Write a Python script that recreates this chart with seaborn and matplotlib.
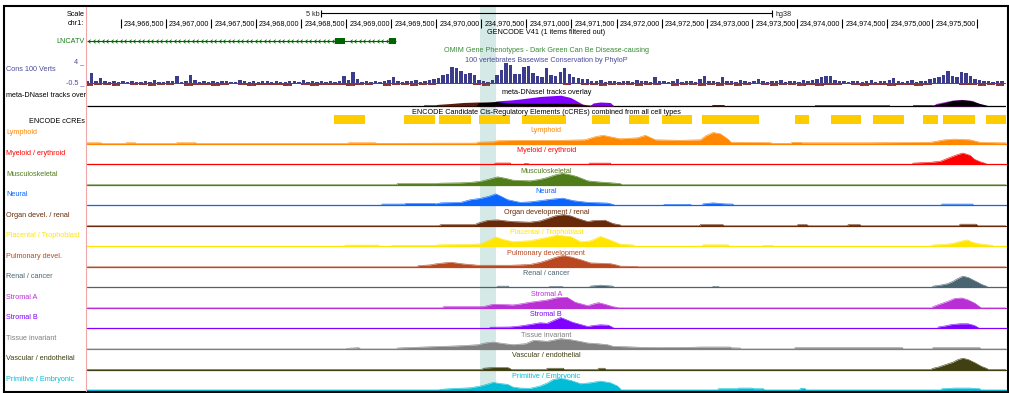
import matplotlib
matplotlib.use("Agg")
import matplotlib.pyplot as plt
from matplotlib.patches import Rectangle
from matplotlib.lines import Line2D
from matplotlib.path import Path
import numpy as np
import pandas as pd
import seaborn as sns

# ------------------------------------------------------------------ data
ORIGIN_BP = 234_960_000            # all *_KB positions are kb past this chr1 coordinate
CHROM = "chr1:"
VIEW_KB = (5.62, 15.82)
HIGHLIGHT_KB = (9.98, 10.16)
TICK_KB = [6.0, 6.5, 7.0, 7.5, 8.0, 8.5, 9.0, 9.5, 10.0, 10.5,
           11.0, 11.5, 12.0, 12.5, 13.0, 13.5, 14.0, 14.5, 15.0, 15.5]
TICK_LABELS = ["", "234,966,500", "234,967,000", "234,967,500", "234,968,000",
               "234,968,500", "234,969,000", "234,969,500", "234,970,000",
               "234,970,500", "234,971,000", "234,971,500", "234,972,000",
               "234,972,500", "234,973,000", "234,973,500", "234,974,000",
               "234,974,500", "234,975,000", "234,975,500"]
SCALE_BAR_KB = 5.0
SCALE_LABEL = "5 kb"
ASSEMBLY = "hg38"

GENE_NAME = "LNCATV"
GENE_SPAN_KB = (4.80, 9.05)
GENE_EXONS_KB = [(8.38, 8.49), (8.98, 9.05)]

CCRE_KB = [(8.36, 8.71), (9.14, 9.49), (9.53, 9.89), (9.97, 10.32), (10.45, 10.94),
           (11.23, 11.43), (11.64, 11.86), (12.00, 12.34), (12.45, 13.08),
           (13.48, 13.64), (13.88, 14.21), (14.35, 14.69), (14.90, 15.07),
           (15.12, 15.48), (15.60, 15.95)]

# PhyloP 100-way: positive values in 50 bp bins, negative values in 100 bp bins
CONS_POS_START_KB, CONS_POS_STEP_KB = 5.625, 0.05
CONS_POS = [0.4, 1.9, 0.5, 0.95, 0.4, 0.3, 0.5, 0.3, 0.4, 0.2,
            0.5, 0.3, 0.2, 0.4, 0.3, 0.6, 0.3, 0.2, 0.4, 0.5,
            1.4, 0.3, 0.5, 1.55, 0.6, 0.3, 0.4, 0.2, 0.5, 0.3,
            0.4, 0.5, 0.3, 0.2, 0.6, 0.4, 0.3, 0.5, 0.3, 0.4,
            0.5, 0.3, 0.4, 0.2, 0.3, 0.5, 0.4, 0.3, 0.6, 0.3,
            0.4, 0.3, 0.5, 0.3, 0.4, 0.3, 0.5, 1.4, 0.6, 2.05,
            0.8, 0.3, 0.4, 0.2, 0.5, 0.3, 0.4, 0.6, 1.1, 0.4,
            0.3, 0.5, 0.4, 0.6, 0.3, 0.5, 0.7, 0.8, 1.0, 1.5,
            1.7, 3.1, 2.9, 2.3, 1.8, 1.9, 1.5, 0.6, 0.4, 0.3,
            0.6, 1.5, 2.5, 3.8, 3.4, 1.8, 1.7, 3.1, 3.3, 2.0,
            1.4, 1.2, 2.8, 1.5, 1.3, 2.2, 2.8, 1.8, 1.2, 1.0,
            0.9, 0.8, 0.5, 0.4, 0.6, 0.3, 0.5, 0.4, 0.3, 0.5,
            0.4, 0.3, 0.6, 0.4, 0.5, 0.3, 1.25, 0.4, 0.5, 0.3,
            0.4, 0.9, 0.3, 0.5, 0.4, 0.3, 0.8, 1.4, 0.5, 0.4,
            0.3, 1.2, 0.5, 0.4, 0.3, 0.6, 0.4, 0.3, 0.5, 0.8,
            0.4, 0.3, 0.5, 0.4, 0.7, 0.3, 0.5, 0.4, 0.3, 0.6,
            0.5, 0.6, 0.8, 1.2, 1.4, 1.3, 0.7, 0.5, 0.4, 0.3,
            0.4, 0.5, 0.3, 0.4, 0.7, 0.3, 0.5, 0.4, 0.6, 1.0,
            0.5, 0.3, 0.4, 0.6, 0.3, 0.5, 0.4, 0.8, 1.0, 1.2,
            1.5, 2.3, 1.3, 1.2, 2.2, 1.9, 1.3, 0.8, 0.6, 0.4,
            0.5, 0.3, 0.5, 0.4]
CONS_NEG_START_KB, CONS_NEG_STEP_KB = 5.65, 0.10
CONS_NEG = [-0.6, -0.3, -0.4, -0.6, -0.2, -0.4, -0.3, -0.6, -0.3, -0.4,
            -0.2, -0.6, -0.4, -0.3, -0.6, -0.3, -0.2, -0.4, -0.6, -0.3,
            -0.4, -0.3, -0.6, -0.2, -0.4, -0.6, -0.3, -0.4, -0.3, -0.6,
            -0.3, -0.4, -0.2, -0.6, -0.4, -0.3, -0.6, -0.4, -0.3, -0.2,
            -0.15, -0.2, -0.1, -0.3, -0.6, -0.2, -0.1, -0.2, -0.15, -0.2,
            -0.15, -0.2, -0.15, -0.3, -0.2, -0.4, -0.3, -0.6, -0.3, -0.4,
            -0.3, -0.6, -0.4, -0.3, -0.2, -0.6, -0.4, -0.3, -0.6, -0.4,
            -0.6, -0.3, -0.6, -0.4, -0.2, -0.3, -0.6, -0.4, -0.3, -0.6,
            -0.3, -0.6, -0.4, -0.3, -0.2, -0.4, -0.6, -0.3, -0.4, -0.6,
            -0.3, -0.4, -0.6, -0.3, -0.2, -0.15, -0.2, -0.3, -0.4, -0.6,
            -0.3, -0.6]
CONS_RANGE = (-0.5, 4.0)

# meta-DNaseI overlay layers (kb, signal)
OV_PURPLE = [(10.14, 0), (10.16, 5), (10.32, 6), (10.43, 7), (10.65, 9.5), (10.88, 10.8),
             (10.99, 8.5), (11.06, 5), (11.12, 2), (11.15, 0), (11.20, 0), (11.24, 3),
             (11.32, 4), (11.43, 3.5), (11.47, 0)]
OV_MAGENTA = [(15.01, 0), (15.04, 2.5), (15.12, 4), (15.23, 6), (15.33, 6.6), (15.45, 5.5),
              (15.53, 2), (15.56, 0)]
OV_ORANGE = [(9.36, 1.5), (9.55, 1.5)]
OV_BROWN = [(9.50, 1.5), (9.66, 2.5), (9.80, 3.5), (9.96, 4.0), (10.10, 3.5), (10.30, 3.0),
            (10.54, 3.0), (10.88, 3.0), (11.06, 2.5), (11.20, 1.0), (11.46, 0.8), (11.47, 0),
            (12.55, 0), (12.56, 1.5), (12.69, 1.5), (12.70, 0)]
OV_BLACK = [(9.94, 0), (9.97, 3.5), (10.16, 4.5), (10.30, 3.0), (10.54, 2.5), (10.80, 2.5),
            (11.06, 2.0), (11.20, 0), (14.99, 0), (15.01, 1), (15.12, 3), (15.23, 5.5),
            (15.33, 6.3), (15.42, 5.5), (15.53, 2.5), (15.61, 0.7), (15.62, 0)]
OV_RED = [(14.79, 1.2), (15.01, 1.2)]
OV_TEAL = [(13.70, 1.0), (14.53, 1.0)]

TRACK_LABELS = ["Lymphoid", "Myeloid / erythroid", "Musculoskeletal", "Neural",
                "Organ devel. / renal", "Placental / Trophoblast", "Pulmonary devel.",
                "Renal / cancer", "Stromal A", "Stromal B", "Tissue invariant",
                "Vascular / endothelial", "Primitive / Embryonic"]
TRACK_TITLES = ["Lymphoid", "Myeloid / erythroid", "Musculoskeletal", "Neural",
                "Organ development / renal", "Placental / Trophoblast",
                "Pulmonary development", "Renal / cancer", "Stromal A", "Stromal B",
                "Tissue invariant", "Vascular / endothelial", "Primitive / Embryonic"]
TRACK_COLORS = ["#FF8800", "#FF0000", "#507D1A", "#0A64FF", "#692A0A", "#FFE500",
                "#B9471F", "#4B6472", "#BA2ED6", "#7F00FF", "#808080", "#404013",
                "#00BCD6"]

LYMPHOID = [(5.62, 1), (5.78, 1), (5.79, 0.3), (6.05, 0.3), (6.06, 1), (6.16, 1), (6.17, 0.3),
            (6.61, 0.3), (6.62, 1), (6.83, 1), (6.84, 0.3), (8.51, 0.3), (8.53, 1), (8.82, 1),
            (8.84, 0.5), (9.94, 0.7), (9.97, 1.7), (10.14, 2), (10.17, 3), (10.43, 3.5),
            (10.88, 3.5), (11.15, 4), (11.26, 7), (11.35, 8.5), (11.43, 7), (11.54, 5),
            (11.73, 6), (11.82, 8.5), (11.93, 4), (12.21, 3.5), (12.43, 4), (12.49, 8),
            (12.57, 11.3), (12.65, 10), (12.73, 5), (12.77, 1.5), (13.20, 1.2), (13.23, 0.5),
            (13.43, 0.5), (13.45, 1.5), (13.54, 1.5), (13.56, 1), (14.31, 1), (14.98, 1.5),
            (15.14, 4), (15.25, 4.7), (15.42, 4), (15.53, 1.5), (15.75, 1), (15.82, 1)]
MYELOID = [(5.62, 0), (10.14, 0), (10.16, 1.3), (10.32, 1.3), (10.33, 0), (10.47, 0),
           (10.48, 0.7), (10.52, 0.7), (10.53, 0), (11.19, 0), (11.20, 1.2), (11.43, 1.2),
           (11.44, 0), (14.78, 0), (14.79, 1.2), (14.98, 2), (15.09, 3), (15.20, 7),
           (15.28, 9.7), (15.34, 11.3), (15.42, 9), (15.47, 5), (15.53, 2.7), (15.59, 1),
           (15.61, 0), (15.82, 0)]
MUSCULOSKELETAL = [(5.62, 0), (9.06, 0), (9.07, 1.3), (9.49, 1.3), (9.55, 1.7), (9.77, 2),
                   (9.88, 2.5), (9.99, 3.5), (10.07, 5.3), (10.18, 8), (10.27, 6.5),
                   (10.35, 4.7), (10.54, 4), (10.65, 5.5), (10.73, 7.3), (10.82, 10),
                   (10.90, 11.5), (10.99, 10), (11.06, 8.3), (11.18, 4), (11.29, 3),
                   (11.40, 2.3), (11.54, 1.3), (11.56, 0), (15.82, 0)]
NEURAL = [(5.62, 0), (8.89, 0), (8.90, 1.3), (9.15, 1.3), (9.16, 2), (9.48, 2), (9.49, 1.5),
          (9.55, 2.5), (9.77, 3), (9.88, 5.7), (9.99, 7), (10.08, 9), (10.16, 11.5),
          (10.22, 9), (10.29, 5.7), (10.43, 3), (10.54, 3.5), (10.65, 4.7), (10.76, 6),
          (10.90, 7.3), (11.02, 4.7), (11.18, 3), (11.40, 2.3), (11.46, 1), (11.48, 0),
          (12.02, 0), (12.03, 1), (12.32, 1), (12.33, 0), (12.45, 0), (12.46, 1.5),
          (12.57, 2.5), (12.70, 1.5), (12.79, 1.3), (12.80, 0), (15.10, 0), (15.11, 1.3),
          (15.45, 1.3), (15.46, 0), (15.82, 0)]
ORGAN = [(5.62, 0), (9.53, 0), (9.55, 1.3), (9.93, 1.3), (9.96, 2.7), (10.07, 5.5),
         (10.18, 6), (10.27, 5), (10.35, 4.3), (10.54, 3.7), (10.65, 5), (10.73, 7.3),
         (10.82, 10), (10.91, 11.3), (10.99, 10), (11.06, 7.7), (11.18, 4.3), (11.24, 5.3),
         (11.37, 5.7), (11.46, 2.3), (11.54, 1), (11.55, 0), (12.42, 0), (12.43, 1.3),
         (12.68, 1.3), (12.69, 0), (13.50, 0), (13.51, 1.3), (13.61, 1.3), (13.63, 0),
         (14.06, 0), (14.07, 1.3), (14.20, 1.3), (14.21, 0), (15.30, 0), (15.31, 1.7),
         (15.49, 1.7), (15.51, 0), (15.82, 0)]
PLACENTAL = [(5.62, 0), (8.48, 0), (8.49, 1.3), (8.86, 1.3), (8.87, 0), (9.00, 0), (9.01, 1),
             (9.50, 1), (9.51, 1.5), (9.88, 2), (9.99, 2.5), (10.08, 6), (10.16, 9.5),
             (10.24, 7), (10.35, 4.7), (10.54, 5.7), (10.73, 9), (10.84, 11.3), (10.99, 9.7),
             (11.10, 4.7), (11.21, 5.5), (11.32, 10), (11.43, 6.3), (11.54, 2.3), (11.69, 1.3),
             (11.70, 0), (12.45, 0), (12.46, 1.5), (12.74, 1.5), (12.75, 0), (13.12, 0),
             (13.13, 1), (13.23, 1), (13.24, 0), (14.99, 0), (15.00, 1.3), (15.14, 2),
             (15.23, 3), (15.31, 5), (15.39, 6.5), (15.45, 4), (15.53, 2.5), (15.67, 1),
             (15.68, 0), (15.82, 0)]
PULMONARY = [(5.62, 0), (9.29, 0), (9.30, 1.3), (9.43, 2), (9.51, 3.3), (9.66, 4.7), (9.80, 3),
             (9.96, 1.7), (10.32, 1.7), (10.43, 2), (10.54, 2.5), (10.65, 4.5), (10.73, 6.7),
             (10.82, 9.5), (10.90, 11.3), (10.99, 10), (11.10, 7.3), (11.21, 4), (11.32, 3.7),
             (11.43, 3.3), (11.51, 1.7), (11.54, 0.8), (11.73, 0.5), (11.74, 0), (15.82, 0)]
RENAL = [(5.62, 0), (10.17, 0), (10.18, 1.3), (10.30, 1.3), (10.31, 0), (10.75, 0), (10.76, 1),
         (10.90, 1), (10.91, 0), (11.20, 0), (11.21, 1.3), (11.32, 2.3), (11.46, 1.3),
         (11.47, 0), (12.56, 0), (12.57, 1), (12.63, 1), (12.64, 0), (15.00, 0), (15.01, 1.3),
         (15.09, 2.3), (15.17, 3.7), (15.23, 6), (15.28, 8.7), (15.34, 11.3), (15.40, 10),
         (15.45, 7.7), (15.51, 5), (15.55, 3), (15.61, 1), (15.62, 0), (15.82, 0)]
STROMAL_A = [(5.62, 0), (9.57, 0), (9.58, 1.3), (9.93, 1.3), (10.02, 1.3), (10.13, 3.7),
             (10.24, 3.5), (10.35, 3), (10.43, 4), (10.54, 5.7), (10.65, 7), (10.73, 8),
             (10.84, 10.3), (10.95, 10.7), (11.04, 5.7), (11.18, 2.3), (11.24, 4), (11.30, 5.3),
             (11.37, 3.7), (11.46, 1.3), (11.51, 0.5), (11.52, 0), (15.00, 0), (15.01, 1.3),
             (15.09, 4), (15.17, 6.5), (15.25, 9.5), (15.33, 10), (15.40, 8), (15.47, 5),
             (15.53, 1), (15.54, 0), (15.82, 0)]
STROMAL_B = [(5.62, 0), (10.09, 0), (10.10, 1.3), (10.32, 1.5), (10.43, 2.5), (10.54, 4),
             (10.65, 5.7), (10.73, 5.2), (10.80, 8), (10.88, 11), (10.95, 8.5), (11.01, 6.3),
             (11.10, 4), (11.18, 2), (11.24, 3), (11.32, 3.7), (11.41, 3.3), (11.46, 1),
             (11.47, 0), (15.06, 0), (15.07, 1.5), (15.14, 2.5), (15.22, 4), (15.31, 4.7),
             (15.40, 4.7), (15.47, 3), (15.51, 1), (15.52, 0), (15.82, 0)]
TISSUE_INVARIANT = [(5.62, 0), (8.50, 0), (8.51, 0.7), (8.64, 1.3), (8.66, 0), (9.06, 0),
                    (9.07, 1), (9.21, 1.5), (9.36, 2), (9.51, 2.5), (9.69, 3), (9.82, 3.5),
                    (9.96, 4.3), (10.04, 6), (10.13, 7), (10.24, 5.5), (10.35, 4.3),
                    (10.49, 5.3), (10.58, 8.7), (10.73, 7.7), (10.88, 10.3), (10.99, 9.3),
                    (11.10, 7.5), (11.18, 6), (11.29, 5.3), (11.40, 4.3), (11.46, 2.7),
                    (11.69, 2), (11.76, 1.7), (11.98, 1.5), (12.32, 1.7), (12.43, 2),
                    (12.76, 2), (12.77, 1.2), (12.87, 1), (12.88, 0), (13.47, 0), (13.48, 1.3),
                    (14.67, 1.3), (14.68, 0), (15.00, 0), (15.01, 1.3), (15.53, 1.3),
                    (15.54, 0), (15.82, 0)]
VASCULAR = [(5.62, 0), (10.01, 0), (10.02, 1.3), (10.13, 2), (10.29, 2), (10.32, 1), (10.33, 0),
            (10.72, 0), (10.73, 1.3), (10.91, 1.3), (10.92, 0), (11.29, 0), (11.30, 1.3),
            (11.37, 1.3), (11.38, 0), (14.99, 0), (15.00, 1), (15.07, 2.5), (15.12, 4),
            (15.23, 7.3), (15.29, 10), (15.34, 11.3), (15.40, 10), (15.47, 7), (15.55, 3),
            (15.61, 1), (15.62, 0), (15.82, 0)]
PRIMITIVE = [(5.62, 0), (9.53, 0), (9.55, 0.7), (9.71, 1.7), (9.82, 2), (9.88, 2.3), (9.99, 4),
             (10.07, 6), (10.13, 7.7), (10.21, 6.5), (10.29, 5.7), (10.35, 3), (10.43, 2),
             (10.54, 1.7), (10.65, 4), (10.73, 7), (10.80, 10.7), (10.88, 11.7), (10.99, 9.7),
             (11.10, 6.3), (11.21, 7.3), (11.32, 9), (11.43, 7.3), (11.51, 4), (11.54, 1.3),
             (11.55, 0), (12.62, 0), (12.63, 1.3), (12.84, 1.3), (12.85, 2), (13.00, 2),
             (13.02, 1.3), (13.13, 1.3), (13.14, 0), (13.53, 0), (13.54, 1.7), (13.59, 1.7),
             (13.60, 0), (15.10, 0), (15.11, 1.3), (15.25, 2), (15.42, 2), (15.53, 1.3),
             (15.54, 0), (15.82, 0)]
TRACK_DATA = [LYMPHOID, MYELOID, MUSCULOSKELETAL, NEURAL, ORGAN, PLACENTAL, PULMONARY,
              RENAL, STROMAL_A, STROMAL_B, TISSUE_INVARIANT, VASCULAR, PRIMITIVE]

# ------------------------------------------------------------------ style / layout
sns.set_theme(style="white")
plt.rcParams["font.family"] = ["Liberation Sans", "DejaVu Sans"]
FS = 5.2
W, H = 1009, 393
X0, X1 = 86.5, 1006.0
TRACK_H = 20.52
FIRST_BASE = 143.8
GENE_GREEN = "#006400"
CONS_BLUE = "#3C3C8C"
CONS_TXT = "#4B4B9B"
CONS_RED = "#8C3535"
CONS_MAG = "#E600E6"


def bp(kb):
    return ORIGIN_BP + np.asarray(kb, dtype=float) * 1000.0


def fy(y):
    return 1 - y / H


def ftext(x, yc, s, color="black", ha="left"):
    fig.text(x / W, fy(yc + 2.4), s, ha=ha, va="baseline", fontsize=FS, color=color)


def data_axes(top, bottom):
    a = fig.add_axes([X0 / W, fy(bottom), (X1 - X0) / W, (bottom - top) / H])
    a.set_xlim(bp(VIEW_KB))
    a.axis("off")
    a.patch.set_alpha(0)
    return a


fig = plt.figure(figsize=(W / 100, H / 100), dpi=100)
fig.patch.set_facecolor("white")

# frame axes: x = genome, y = pixel row
fr = fig.add_axes([X0 / W, 0, (X1 - X0) / W, 1])
fr.set_xlim(bp(VIEW_KB))
fr.set_ylim(H, 0)
fr.axis("off")
fr.patch.set_alpha(0)

fr.axvspan(*bp(HIGHLIGHT_KB), ymin=1 - 391 / H, ymax=1 - 7 / H, color="#D5EAE7", lw=0, zorder=0)

# ruler
ticks = bp(TICK_KB)
fr.vlines(ticks, 18.5, 27.5, color="black", lw=0.8)
for t, lab in zip(ticks, TICK_LABELS):
    if lab:
        fr.annotate(lab, (t, 25.4), xytext=(-1.0, 0), textcoords="offset points",
                    ha="right", va="baseline", fontsize=FS, color="black")

# scale bar
vc = (VIEW_KB[0] + VIEW_KB[1]) / 2
s0, s1 = bp([vc - SCALE_BAR_KB / 2, vc + SCALE_BAR_KB / 2])
fr.hlines(13.4, s0, s1, color="black", lw=0.8)
fr.vlines([s0, s1], 10, 17, color="black", lw=0.8)
fr.annotate(SCALE_LABEL, (s0, 15.8), xytext=(-1.2, 0), textcoords="offset points",
            ha="right", va="baseline", fontsize=FS)
fr.annotate(ASSEMBLY, (s1, 15.6), xytext=(3, 0), textcoords="offset points",
            ha="left", va="baseline", fontsize=FS)

# gene
g0, g1 = bp(GENE_SPAN_KB)
fr.hlines(41, max(g0, bp(VIEW_KB[0])), g1, color=GENE_GREEN, lw=0.8)
chev = Path([(0.6, 1), (-0.6, 0), (0.6, -1)], [Path.MOVETO, Path.LINETO, Path.LINETO])
cpos = np.arange(VIEW_KB[0] + 0.03, GENE_EXONS_KB[-1][0], 0.05)
cpos = [c for c in cpos if not any(a - 0.02 <= c <= b + 0.02 for a, b in GENE_EXONS_KB)]
fr.plot(bp(cpos), [41] * len(cpos), ls="none", marker=chev, ms=2.6, mec=GENE_GREEN,
        mfc="none", mew=0.6)
for a, b in GENE_EXONS_KB:
    fr.add_patch(Rectangle((bp(a), 38.4), bp(b) - bp(a), 5.2, color=GENE_GREEN, lw=0))

# cCREs
for a, b in CCRE_KB:
    fr.add_patch(Rectangle((bp(a), 115.0), bp(b) - bp(a), 9.0, color="#FFCC00", lw=0))

# overlay baseline
fr.hlines(106.2, *bp(VIEW_KB), color="black", lw=0.9)

# conservation
cax = data_axes(62, 86)
cax.set_ylim(*CONS_RANGE)
px = bp(CONS_POS_START_KB + CONS_POS_STEP_KB * np.arange(len(CONS_POS)))
cax.bar(px, CONS_POS, width=38, color=CONS_BLUE, lw=0)
nx = bp(CONS_NEG_START_KB + CONS_NEG_STEP_KB * np.arange(len(CONS_NEG)))
neg = np.array(CONS_NEG)
cax.bar(nx, np.maximum(neg, CONS_RANGE[0]), width=92, color=CONS_RED, lw=0)
clip = neg < CONS_RANGE[0]
cax.bar(nx[clip] + 15, np.full(clip.sum(), -0.28), bottom=-0.22, width=30,
        color=CONS_MAG, lw=0)
cax.axhline(0, color=CONS_RED, lw=0.7)

# overlay
oax = data_axes(93, 106)
oax.set_ylim(0, 13)
for layer, col in [(OV_PURPLE, "#7F00FF"), (OV_MAGENTA, "#BA2ED6"), (OV_ORANGE, "#C8461E"),
                   (OV_BROWN, "#5C1A0A"), (OV_BLACK, "#000000"), (OV_RED, "#FF0000"),
                   (OV_TEAL, "#008B8B")]:
    xs = bp([p[0] for p in layer])
    oax.fill_between(xs, 0, [p[1] for p in layer], color=col, lw=0)

# signal tracks
for i, (pts, col) in enumerate(zip(TRACK_DATA, TRACK_COLORS)):
    yb = FIRST_BASE + TRACK_H * i
    ax = data_axes(yb - TRACK_H, yb)
    ax.set_ylim(0, TRACK_H)
    df = pd.DataFrame({"pos": bp([p[0] for p in pts]), "sig": [p[1] for p in pts]})
    ax.fill_between(df["pos"], 0, df["sig"], color=col, lw=0)
    sns.lineplot(data=df, x="pos", y="sig", ax=ax, color=col, lw=0.4, estimator=None,
                 legend=False)
    ax.axhline(0, color=col, lw=0.9, clip_on=False)
    ax.set_xlim(bp(VIEW_KB))
    ax.axis("off")
    ftext(6, yb - 11.7, TRACK_LABELS[i], color=col)
    ftext((X0 + X1) / 2, yb - 14.6, TRACK_TITLES[i], color=col, ha="center")

# left-hand and centre labels
CX = (X0 + X1) / 2
ftext(84.5, 14, "Scale", ha="right")
ftext(84.5, 23, CHROM, ha="right")
ftext(CX, 32, "GENCODE V41 (1 items filtered out)", ha="center")
ftext(84.5, 41, GENE_NAME, color="#157A15", ha="right")
ftext(CX, 50, "OMIM Gene Phenotypes - Dark Green Can Be Disease-causing",
      color="#3A8A3A", ha="center")
ftext(CX, 59.5, "100 vertebrates Basewise Conservation by PhyloP", color=CONS_TXT, ha="center")
ftext(84.5, 60.6, "4 _", color=CONS_TXT, ha="right")
ftext(6, 68.2, "Cons 100 Verts", color=CONS_TXT)
ftext(84.5, 82.2, "-0.5 _", color=CONS_TXT, ha="right")
ftext(CX, 91.8, "meta-DNaseI tracks overlay", ha="center")
ftext(6, 95, "meta-DNaseI tracks over")
ftext(CX, 111.2, "ENCODE Candidate Cis-Regulatory Elements (cCREs) combined from all cell types",
      ha="center")
ftext(84.5, 120.6, "ENCODE cCREs", ha="right")

# pink divider and outer frame
fig.add_artist(Line2D([86 / W, 86 / W], [fy(7), fy(391)], color="#F2A7A7", lw=0.8))
fig.add_artist(Rectangle((4 / W, fy(391.8)), 1004 / W, (391.8 - 5.8) / H, fill=False,
                         ec="black", lw=1.5, transform=fig.transFigure))

fig.savefig("out.png", dpi=100)
